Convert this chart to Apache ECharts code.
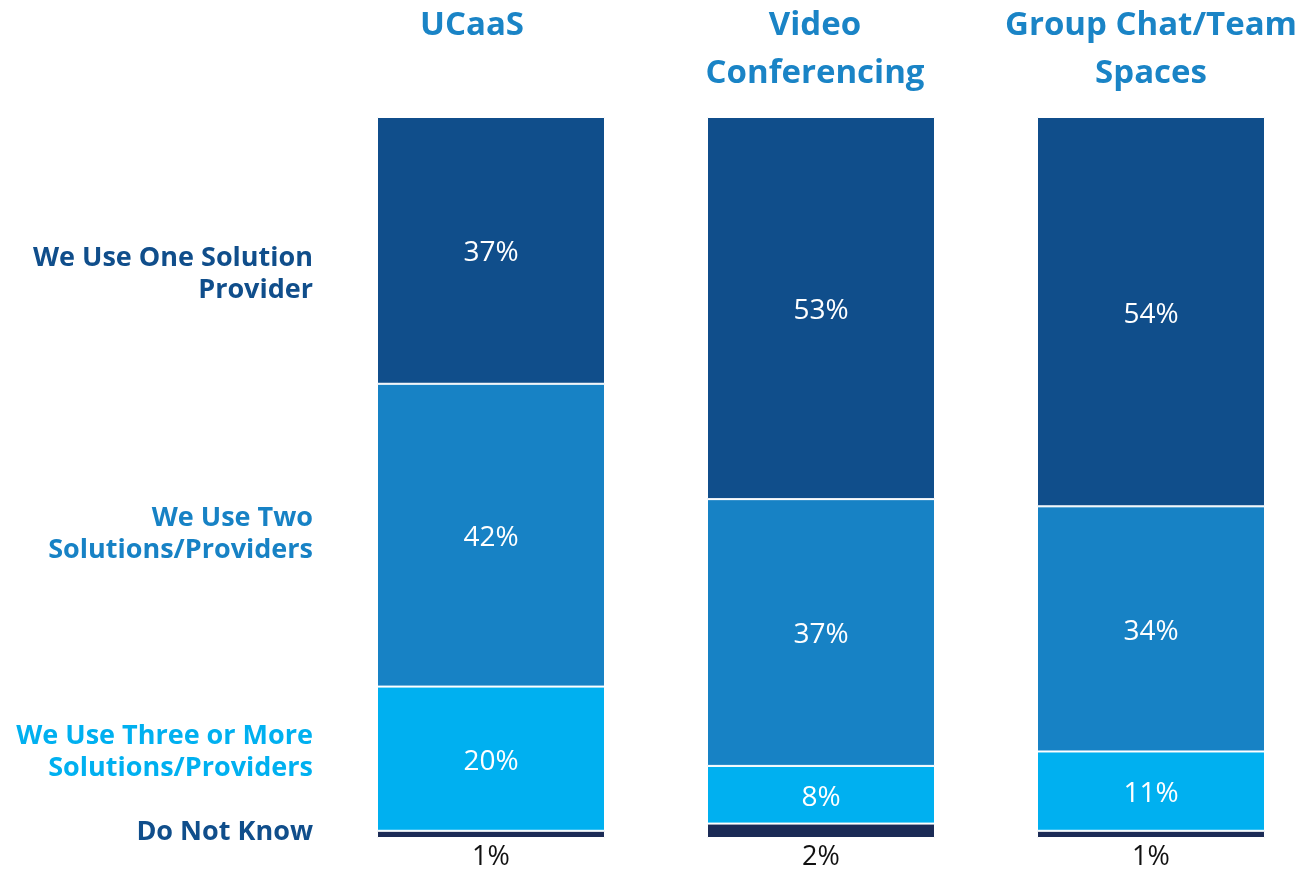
<!DOCTYPE html>
<html>
<head>
<meta charset="utf-8">
<script src="https://cdn.jsdelivr.net/npm/echarts@6/dist/echarts.min.js"></script>
<style>
  html, body { margin: 0; padding: 0; background: #fff; }
  #chart { width: 1303px; height: 871px; }
</style>
</head>
<body>
<div id="chart"></div>
<script>
const categories = ['UCaaS', 'Video\nConferencing', 'Group Chat/Team\nSpaces'];
const oneProvider = [37, 53, 54];
const twoProviders = [42, 37, 34];
const threeOrMore = [20, 8, 11];
const doNotKnow = [1, 2, 1];

const seriesNames = [
  'Do Not Know',
  'We Use Three or More\nSolutions/Providers',
  'We Use Two\nSolutions/Providers',
  'We Use One Solution\nProvider'
];

const colors = {
  one: '#104E8B',
  two: '#1782C5',
  three: '#00B0F0',
  dnk: '#1B2B56'
};

// titles sit a little left of the bar centres in the original
const titleShift = [38, 12, 0];

const font = '"Open Sans", "Noto Sans", sans-serif';
const chart = echarts.init(document.getElementById('chart'));

function barSeries(name, data, color, label) {
  return {
    name: name,
    type: 'bar',
    stack: 'total',
    barWidth: 228,
    data: data,
    itemStyle: { color: color, borderColor: '#fff', borderWidth: 1 },
    label: Object.assign({
      show: true,
      position: 'inside',
      offset: [0, 3],
      color: '#fff',
      fontFamily: font,
      fontSize: 28,
      formatter: '{c}%'
    }, label || {})
  };
}

// left-hand labels, placed next to the UCaaS bar
function sideLabel(text, y, color) {
  return {
    type: 'text',
    right: 1303 - 313,
    top: y,
    style: {
      text: text,
      fill: color,
      font: 'bold 27px ' + font,
      textAlign: 'right',
      lineHeight: 32
    }
  };
}

chart.setOption({
  animation: false,
  grid: { left: 326, right: -13, top: 117, bottom: 33, outerBoundsMode: 'none', containLabel: false },
  xAxis: {
    type: 'category',
    position: 'top',
    data: categories.map((c, i) => ({
      value: c,
      textStyle: { verticalAlign: 'top', padding: [0, titleShift[i], 0, 0] }
    })),
    axisLine: { show: false },
    axisTick: { show: false },
    axisLabel: {
      interval: 0,
      margin: 115,
      verticalAlign: 'top',
      color: '#1A84C6',
      fontFamily: font,
      fontWeight: 'bold',
      fontSize: 33,
      lineHeight: 48
    }
  },
  yAxis: {
    type: 'value',
    min: 0,
    max: 100,
    show: false
  },
  series: [
    barSeries(seriesNames[0], doNotKnow, colors.dnk, {
      position: 'bottom',
      offset: [0, 0],
      distance: 6,
      color: '#111',
      fontSize: 27
    }),
    barSeries(seriesNames[1], threeOrMore, colors.three),
    barSeries(seriesNames[2], twoProviders, colors.two),
    barSeries(seriesNames[3], oneProvider, colors.one)
  ],
  graphic: [
    sideLabel(seriesNames[3], 242, colors.one),
    sideLabel(seriesNames[2], 502, colors.two),
    sideLabel(seriesNames[1], 720, colors.three),
    sideLabel(seriesNames[0], 816, colors.one)
  ]
});
</script>
</body>
</html>
